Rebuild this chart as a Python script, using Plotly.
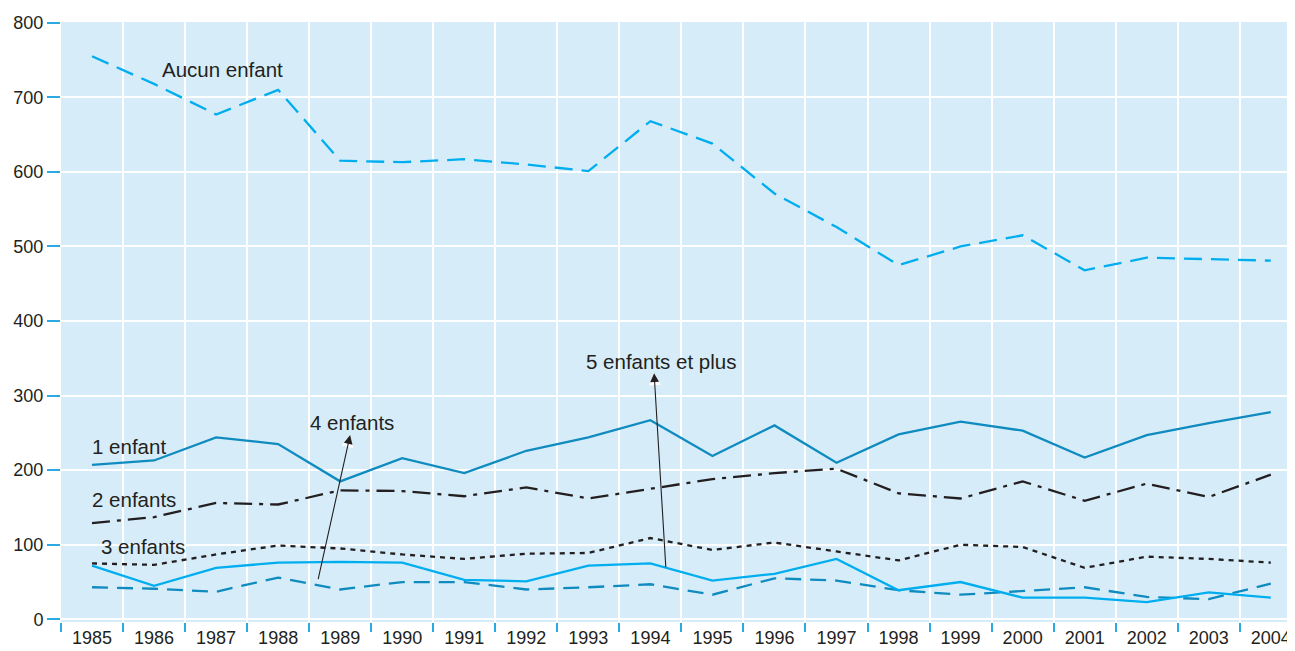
import plotly.graph_objects as go

years = [str(y) for y in range(1985, 2005)]

aucun = [755, 718, 677, 710, 615, 613, 617, 610, 601, 668, 638, 571, 526, 475, 500, 515, 468, 485, 483, 481]
un = [207, 213, 244, 235, 185, 216, 196, 226, 244, 267, 219, 260, 210, 248, 265, 253, 217, 247, 263, 278]
deux = [129, 137, 156, 154, 173, 172, 165, 177, 162, 175, 188, 196, 202, 169, 162, 185, 159, 182, 164, 194]
trois = [75, 73, 87, 99, 95, 87, 81, 88, 89, 109, 93, 103, 91, 79, 100, 97, 69, 84, 81, 76]
quatre = [43, 41, 37, 56, 40, 50, 50, 40, 43, 47, 33, 55, 52, 39, 33, 38, 43, 30, 27, 48]
cinq = [72, 45, 69, 76, 77, 76, 53, 51, 72, 75, 52, 61, 81, 39, 50, 29, 29, 23, 36, 29]

CYAN = "#00aeef"
DBLUE = "#0f8bbf"
BLACK = "#231f20"
TICK = "#29abe2"
FONT = "Liberation Sans, Arial, sans-serif"

fig = go.Figure()
series = [
    ("Aucun enfant", aucun, CYAN, "18px,9px"),
    ("1 enfant", un, DBLUE, "solid"),
    ("2 enfants", deux, BLACK, "18px,7px,4px,7px"),
    ("3 enfants", trois, BLACK, "5px,5px"),
    ("4 enfants", quatre, DBLUE, "16px,9px"),
    ("5 enfants et plus", cinq, CYAN, "solid"),
]
for name, vals, col, dash in series:
    fig.add_trace(go.Scatter(x=years, y=vals, mode="lines", name=name,
                             line=dict(color=col, width=2.3, dash=dash)))

labels = [
    ("Aucun enfant", 2.1, 737),
    ("1 enfant", 0.6, 232),
    ("2 enfants", 0.68, 161),
    ("3 enfants", 0.82, 98),
    ("4 enfants", 4.19, 264),
    ("5 enfants et plus", 9.17, 346),
]
for txt, x, y in labels:
    fig.add_annotation(x=x, y=y, text=txt, showarrow=False,
                       font=dict(family=FONT, size=20.5, color=BLACK))

# arrows: (head x, head y, tail x, tail y, halo tail x, halo tail y)
arrows = [
    (4.16, 247, 3.64, 52, 4.118, 231),
    (9.06, 330, 9.25, 68, 9.072, 314),
]
for x, y, ax, ay, hx, hy in arrows:
    fig.add_annotation(x=x, y=y, ax=hx, ay=hy, axref="x", ayref="y",
                       text="", showarrow=True, arrowhead=2, arrowsize=0.8,
                       arrowwidth=3, arrowcolor="white")
    fig.add_annotation(x=x, y=y, ax=ax, ay=ay, axref="x", ayref="y",
                       text="", showarrow=True, arrowhead=2, arrowsize=1.6,
                       arrowwidth=1.1, arrowcolor=BLACK)

fig.update_layout(
    width=1287, height=643,
    margin=dict(l=53, r=0, t=14, b=29),
    paper_bgcolor="white",
    plot_bgcolor="#d6edf9",
    showlegend=False,
    font=dict(family=FONT, size=18, color=BLACK),
)
fig.update_xaxes(type="category", range=[-0.5, 19.39], tickson="boundaries",
                 ticks="outside", ticklen=9, tickwidth=2, tickcolor=TICK,
                 ticklabelstandoff=3,
                 showgrid=True, gridcolor="white", gridwidth=1.5,
                 showline=False, zeroline=False,
                 tickfont=dict(family=FONT, size=18, color=BLACK))
fig.update_yaxes(range=[-3.6, 801], tickvals=[0, 100, 200, 300, 400, 500, 600, 700, 800],
                 ticks="outside", ticklen=13, tickwidth=2, tickcolor=TICK,
                 showgrid=True, gridcolor="white", gridwidth=1.5,
                 showline=False, zeroline=False,
                 tickfont=dict(family=FONT, size=18, color=BLACK))

fig.write_html("out.html")
